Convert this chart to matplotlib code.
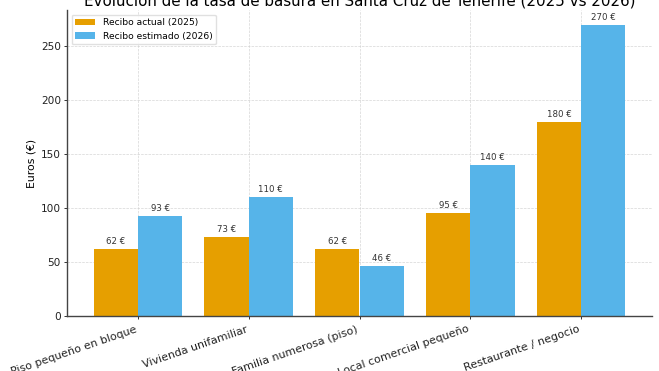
import matplotlib
matplotlib.use("Agg")
import matplotlib.pyplot as plt
import numpy as np

categories = ["Piso pequeño en bloque", "Vivienda unifamiliar", "Familia numerosa (piso)",
              "Local comercial pequeño", "Restaurante / negocio"]
actual_2025 = [62, 73, 62, 95, 180]
estimado_2026 = [93, 110, 46, 140, 270]
series_labels = ["Recibo actual (2025)", "Recibo estimado (2026)"]
title = "Evolución de la tasa de basura en Santa Cruz de Tenerife (2025 vs 2026)"

W, H = 659, 371
fig = plt.figure(figsize=(W / 100, H / 100), dpi=100)
ax = fig.add_axes([67 / W, (H - 316) / H, (652 - 67) / W, (316 - 10) / H])

x = np.arange(len(categories))
w = 0.4
b1 = ax.bar(x - w / 2, actual_2025, w, color="#E69F00", label=series_labels[0])
b2 = ax.bar(x + w / 2, estimado_2026, w, color="#56B4E9", label=series_labels[1])

for bars in (b1, b2):
    ax.bar_label(bars, labels=[f"{v} €" for v in bars.datavalues], padding=2.2,
                 fontsize=6.2, color="#333333")

ax.set_xticks(x)
ax.set_xticklabels(categories, rotation=19, ha="right", fontsize=7.9)
ax.tick_params(axis="y", labelsize=7.6)
ax.tick_params(length=2.2, pad=2.2, width=0.7, colors="#333333", labelcolor="#222222")
ax.tick_params(axis="x", pad=3.6)
ax.set_ylabel("Euros (€)", fontsize=7.8, labelpad=3)
ax.set_title(title, fontsize=10.9, pad=3)
ax.grid(True, linestyle="--", linewidth=0.5, color="#cccccc", alpha=0.8)
ax.set_axisbelow(True)
for s in ("top", "right"):
    ax.spines[s].set_visible(False)
for s in ("left", "bottom"):
    ax.spines[s].set_color("#444444")
    ax.spines[s].set_linewidth(1.0)
ax.legend(loc="upper left", fontsize=6.6, framealpha=0.9, edgecolor="#dddddd",
          handlelength=2.2)

fig.savefig("out.png", dpi=100)
